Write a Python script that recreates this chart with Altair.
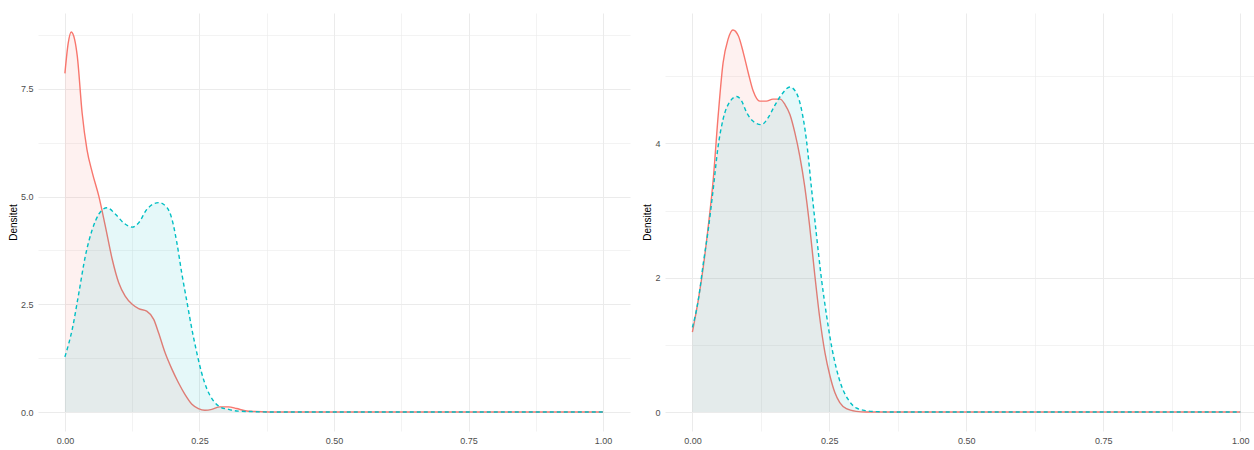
import altair as alt
import pandas as pd

# Density estimates, two groups per panel (x on [0, 1])
left_red_x = [0.0, 0.006, 0.0117, 0.018, 0.023, 0.032, 0.041, 0.051, 0.063, 0.075, 0.088, 0.100,
              0.112, 0.125, 0.137, 0.152, 0.165, 0.174, 0.186, 0.199, 0.211, 0.223, 0.236,
              0.248, 0.260, 0.273, 0.288, 0.304, 0.319, 0.335, 0.353, 0.38, 0.5, 0.75, 1.0]
left_red_y = [7.86, 8.55, 8.82, 8.65, 8.26, 6.94, 6.09, 5.55, 5.01, 4.32, 3.54, 3.00,
              2.69, 2.50, 2.40, 2.34, 2.15, 1.84, 1.38, 0.99, 0.68, 0.41, 0.18,
              0.08, 0.04, 0.06, 0.12, 0.12, 0.08, 0.03, 0.01, 0.0, 0.0, 0.0, 0.0]

left_teal_x = [0.0, 0.0136, 0.026, 0.038, 0.051, 0.063, 0.078, 0.094, 0.109, 0.125, 0.137,
               0.152, 0.174, 0.190, 0.199, 0.208, 0.217, 0.227, 0.236, 0.245, 0.254,
               0.264, 0.276, 0.288, 0.304, 0.322, 0.347, 0.38, 0.5, 0.75, 1.0]
left_teal_y = [1.28, 1.92, 2.77, 3.62, 4.24, 4.59, 4.74, 4.59, 4.39, 4.29, 4.39,
               4.70, 4.86, 4.74, 4.47, 3.93, 3.23, 2.54, 1.92, 1.38, 0.91,
               0.53, 0.26, 0.12, 0.06, 0.02, 0.01, 0.0, 0.0, 0.0, 0.0]

right_red_x = [0.0, 0.011, 0.020, 0.029, 0.038, 0.047, 0.056, 0.065, 0.074, 0.084, 0.093,
               0.102, 0.111, 0.123, 0.135, 0.147, 0.160, 0.169, 0.178, 0.187, 0.196,
               0.205, 0.214, 0.223, 0.232, 0.242, 0.251, 0.260, 0.269, 0.281, 0.299,
               0.317, 0.5, 0.75, 1.0]
right_red_y = [1.19, 1.68, 2.17, 2.77, 3.46, 4.41, 5.20, 5.55, 5.69, 5.60, 5.35,
               5.05, 4.78, 4.63, 4.63, 4.66, 4.66, 4.58, 4.43, 4.16, 3.81,
               3.36, 2.77, 2.07, 1.43, 0.88, 0.54, 0.29, 0.14, 0.05, 0.01,
               0.0, 0.0, 0.0, 0.0]

right_teal_x = [0.0, 0.011, 0.020, 0.029, 0.038, 0.047, 0.056, 0.069, 0.081, 0.090, 0.099,
                0.111, 0.126, 0.138, 0.150, 0.163, 0.178, 0.190, 0.199, 0.208, 0.217,
                0.226, 0.235, 0.245, 0.254, 0.263, 0.272, 0.284, 0.299, 0.317, 0.336,
                0.36, 0.5, 0.75, 1.0]
right_teal_y = [1.26, 1.68, 2.22, 2.72, 3.32, 3.96, 4.36, 4.63, 4.70, 4.63, 4.46,
                4.33, 4.28, 4.38, 4.56, 4.73, 4.84, 4.75, 4.51, 4.06, 3.36,
                2.67, 2.02, 1.43, 0.98, 0.64, 0.39, 0.19, 0.06, 0.02, 0.005,
                0.0, 0.0, 0.0, 0.0]

RED = "#F8766D"
TEAL = "#00BFC4"
GRID = "#EBEBEB"
FONT = "Liberation Sans"

x_grid = [0, 0.125, 0.25, 0.375, 0.5, 0.625, 0.75, 0.875, 1.0]
left_y_grid = [0, 1.25, 2.5, 3.75, 5.0, 6.25, 7.5, 8.75]
right_y_grid = [0, 1, 2, 3, 4, 5]


def is_major(step):
    return f"abs(datum.value / {step} - round(datum.value / {step})) < 1e-6"


def grid_width(step):
    return {"condition": {"test": is_major(step), "value": 1.0}, "value": 0.6}


def panel(rx, ry, tx, ty, ymax, y_grid, y_major, y_fmt, width, x_hi, extent, title_pad):
    red = pd.DataFrame({"x": rx, "y": ry})
    teal = pd.DataFrame({"x": tx, "y": ty})
    lo = -0.05 * ymax
    hi = 1.05 * ymax

    x_enc = alt.X("x:Q",
                  scale=alt.Scale(domain=[-0.05, x_hi], nice=False, zero=False),
                  axis=alt.Axis(values=x_grid, title=None, ticks=False, domain=False,
                                labelExpr=f"{is_major(0.25)} ? format(datum.value, '.2f') : ''",
                                labelFont=FONT, labelFontSize=9, labelColor="#4D4D4D",
                                labelPadding=5, gridColor=GRID, gridWidth=grid_width(0.25)))
    y_enc = alt.Y("y:Q",
                  scale=alt.Scale(domain=[lo, hi], nice=False, zero=False),
                  axis=alt.Axis(values=y_grid, title="Densitet", ticks=False, domain=False,
                                labelExpr=f"{is_major(y_major)} ? format(datum.value, '{y_fmt}') : ''",
                                labelFont=FONT, labelFontSize=9, labelColor="#4D4D4D",
                                labelPadding=5, minExtent=extent, maxExtent=extent,
                                titleFont=FONT, titleFontSize=10, titleFontWeight="normal",
                                titleColor="#000000", titlePadding=title_pad,
                                gridColor=GRID, gridWidth=grid_width(y_major)))

    def area(df, color):
        return alt.Chart(df).mark_area(color=color, fillOpacity=0.1, interpolate="monotone").encode(
            x=x_enc, y=y_enc, y2=alt.datum(0))

    def line(df, color, dash=None):
        kw = {"strokeDash": dash} if dash else {}
        return alt.Chart(df).mark_line(color=color, strokeWidth=1.4, interpolate="monotone", **kw).encode(
            x=x_enc, y=y_enc)

    return alt.layer(
        area(red, RED), line(red, RED),
        area(teal, TEAL), line(teal, TEAL, [4, 3]),
    ).properties(width=width, height=418)


left = panel(left_red_x, left_red_y, left_teal_x, left_teal_y, 8.82,
             left_y_grid, 2.5, ".1f", 592, 1.05, 18, 2)
# the right panel runs off the page edge, so its x range stops a little past 1.0
right = panel(right_red_x, right_red_y, right_teal_x, right_teal_y, 5.66,
              right_y_grid, 2, "d", 589, 1.025, 10, 3)

chart = alt.hconcat(left, right, spacing=12).properties(
    padding={"left": 8, "top": 13, "right": 0, "bottom": 0},
    background="white",
).configure_view(strokeWidth=0)

chart.save("out.html", embed_options={"renderer": "svg", "actions": False})
